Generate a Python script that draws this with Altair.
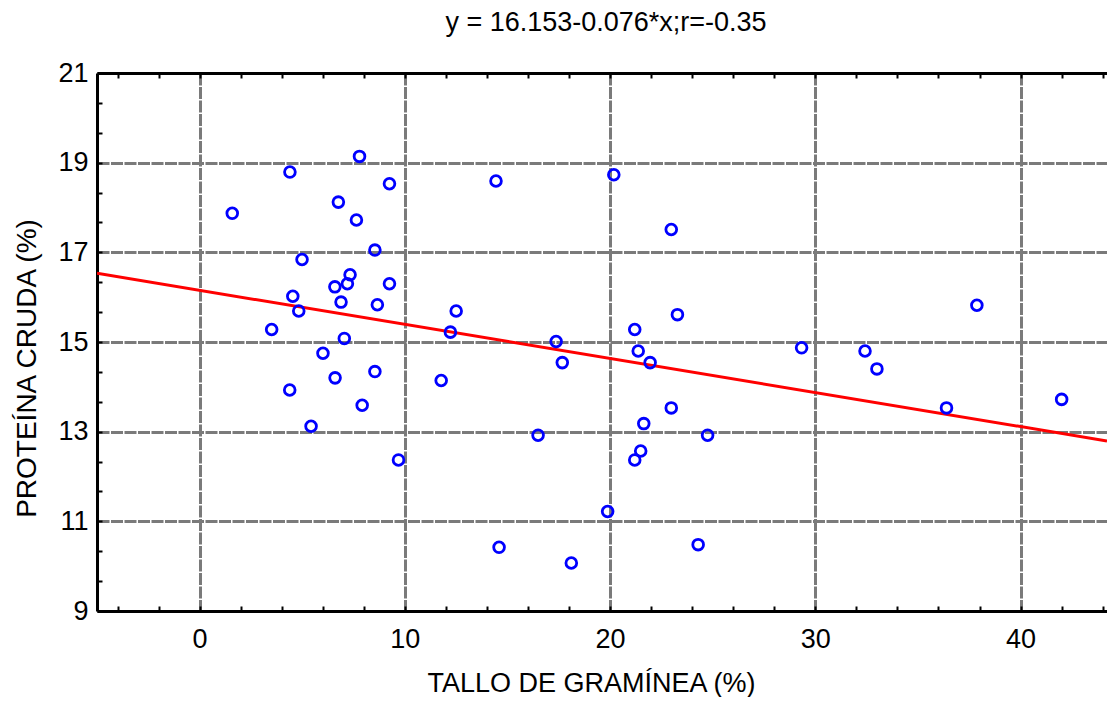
import altair as alt
import pandas as pd

# Data
tallo = [1.59, 4.40, 7.79, 9.25, 6.76, 7.64, 8.54, 4.99, 7.33, 6.59,
         7.20, 9.25, 4.54, 6.89, 8.66, 4.83, 12.50, 12.22, 3.51, 7.05,
         6.01, 8.54, 6.60, 11.77, 4.39, 7.92, 5.43, 9.69, 14.44, 20.18,
         22.98, 23.28, 21.20, 17.37, 21.37, 17.67, 21.95, 22.98, 21.64, 16.49,
         24.75, 21.49, 21.20, 19.88, 14.59, 24.29, 18.11, 29.33, 32.42, 33.00,
         37.87, 36.39, 42.00]
proteina = [17.87, 18.79, 19.14, 18.53, 18.12, 17.72, 17.05, 16.84, 16.50, 16.23,
            16.30, 16.30, 16.02, 15.89, 15.83, 15.69, 15.69, 15.22, 15.28, 15.08,
            14.75, 14.34, 14.20, 14.14, 13.93, 13.59, 13.12, 12.37, 18.59, 18.73,
            17.51, 15.61, 15.28, 15.01, 14.80, 14.54, 14.54, 13.53, 13.18, 12.92,
            12.92, 12.57, 12.37, 11.22, 10.42, 10.48, 10.07, 14.87, 14.80, 14.40,
            15.82, 13.53, 13.72]

intercept = 16.153
slope = -0.076
x_domain = [-5, 44.21]
y_domain = [9, 21]
x_major = [0, 10, 20, 30, 40]
y_major = [9, 11, 13, 15, 17, 19, 21]
x_minor = [v for v in range(-4, 45, 2)]
y_minor = [round(9 + i * 2 / 3, 4) for i in range(19)]

title_text = "y = 16.153-0.076*x;r=-0.35"
x_title = "TALLO DE GRAMÍNEA (%)"
y_title = "PROTEÍNA CRUDA (%)"

FONT = "Liberation Sans"
FS = 27

pts = pd.DataFrame({"x": tallo, "y": proteina})
line_df = pd.DataFrame({"x": x_domain, "y": [intercept + slope * v for v in x_domain]})

xs = alt.Scale(domain=x_domain, nice=False, zero=False)
ys = alt.Scale(domain=y_domain, nice=False, zero=False)

grid_kw = dict(grid=True, gridColor="#7a7a7a", gridWidth=3, gridDash=[12, 1.5], gridOpacity=1)

points = alt.Chart(pts).mark_point(
    shape="circle", filled=False, color="#0000ff", size=115, strokeWidth=2.8, opacity=1
).encode(
    x=alt.X("x:Q", scale=xs, axis=alt.Axis(
        orient="bottom", values=x_major, ticks=False, domain=True, domainColor="black",
        domainWidth=3, labelFont=FONT, labelFontSize=FS, labelColor="black", labelPadding=15,
        title=x_title, titleFont=FONT, titleFontSize=FS, titleFontWeight="normal",
        titleColor="black", titleX=494, titleY=80, titleBaseline="alphabetic",
        titleAlign="center", **grid_kw)),
    y=alt.Y("y:Q", scale=ys, axis=alt.Axis(
        orient="left", values=y_major, ticks=False, domain=True, domainColor="black",
        domainWidth=3, labelFont=FONT, labelFontSize=FS, labelColor="black", labelPadding=9,
        title=y_title, titleFont=FONT, titleFontSize=28, titleFontWeight="normal",
        titleColor="black", titleX=-62, titleY=295, titleBaseline="alphabetic",
        titleAlign="center", titleAngle=270, **grid_kw)),
)

tick_kw = dict(ticks=True, tickColor="black", tickWidth=2, tickSize=5, labels=False,
               domain=False, grid=False, title=None, offset=-5)

minor_bl = alt.Chart(pts).mark_point(opacity=0).encode(
    x=alt.X("x:Q", scale=xs, axis=alt.Axis(orient="bottom", values=x_minor, **tick_kw)),
    y=alt.Y("y:Q", scale=ys, axis=alt.Axis(orient="left", values=y_minor, **tick_kw)),
)

top_dom = alt.Chart(pts).mark_point(opacity=0).encode(
    x=alt.X("x:Q", scale=xs, axis=alt.Axis(orient="top", ticks=False, labels=False, grid=False,
                                           domain=True, domainColor="black", domainWidth=3,
                                           title=None)),
    y=alt.Y("y:Q", scale=ys, axis=None),
)

top_ticks = alt.Chart(pts).mark_point(opacity=0).encode(
    x=alt.X("x:Q", scale=xs, axis=alt.Axis(orient="top", values=x_minor, **tick_kw)),
    y=alt.Y("y:Q", scale=ys, axis=None),
)

reg = alt.Chart(line_df).mark_line(color="#ff0000", strokeWidth=3, clip=True).encode(
    x=alt.X("x:Q", scale=xs, axis=None),
    y=alt.Y("y:Q", scale=ys, axis=None),
)

chart = alt.layer(minor_bl, top_dom, top_ticks, reg, points).resolve_axis(
    x="independent", y="independent"
).properties(
    width=1010, height=538,
    autosize=alt.AutoSizeParams(type="none"),
    padding={"left": 89, "top": 65, "right": 0, "bottom": 86},
    title=alt.TitleParams(title_text, font=FONT, fontSize=FS, fontWeight="normal",
                          color="black", anchor="middle", dx=4, dy=-1, baseline="alphabetic",
                          offset=0),
).configure_view(stroke=None).configure(background="white")

chart.save("out.html", embed_options={"renderer": "svg", "actions": False})
